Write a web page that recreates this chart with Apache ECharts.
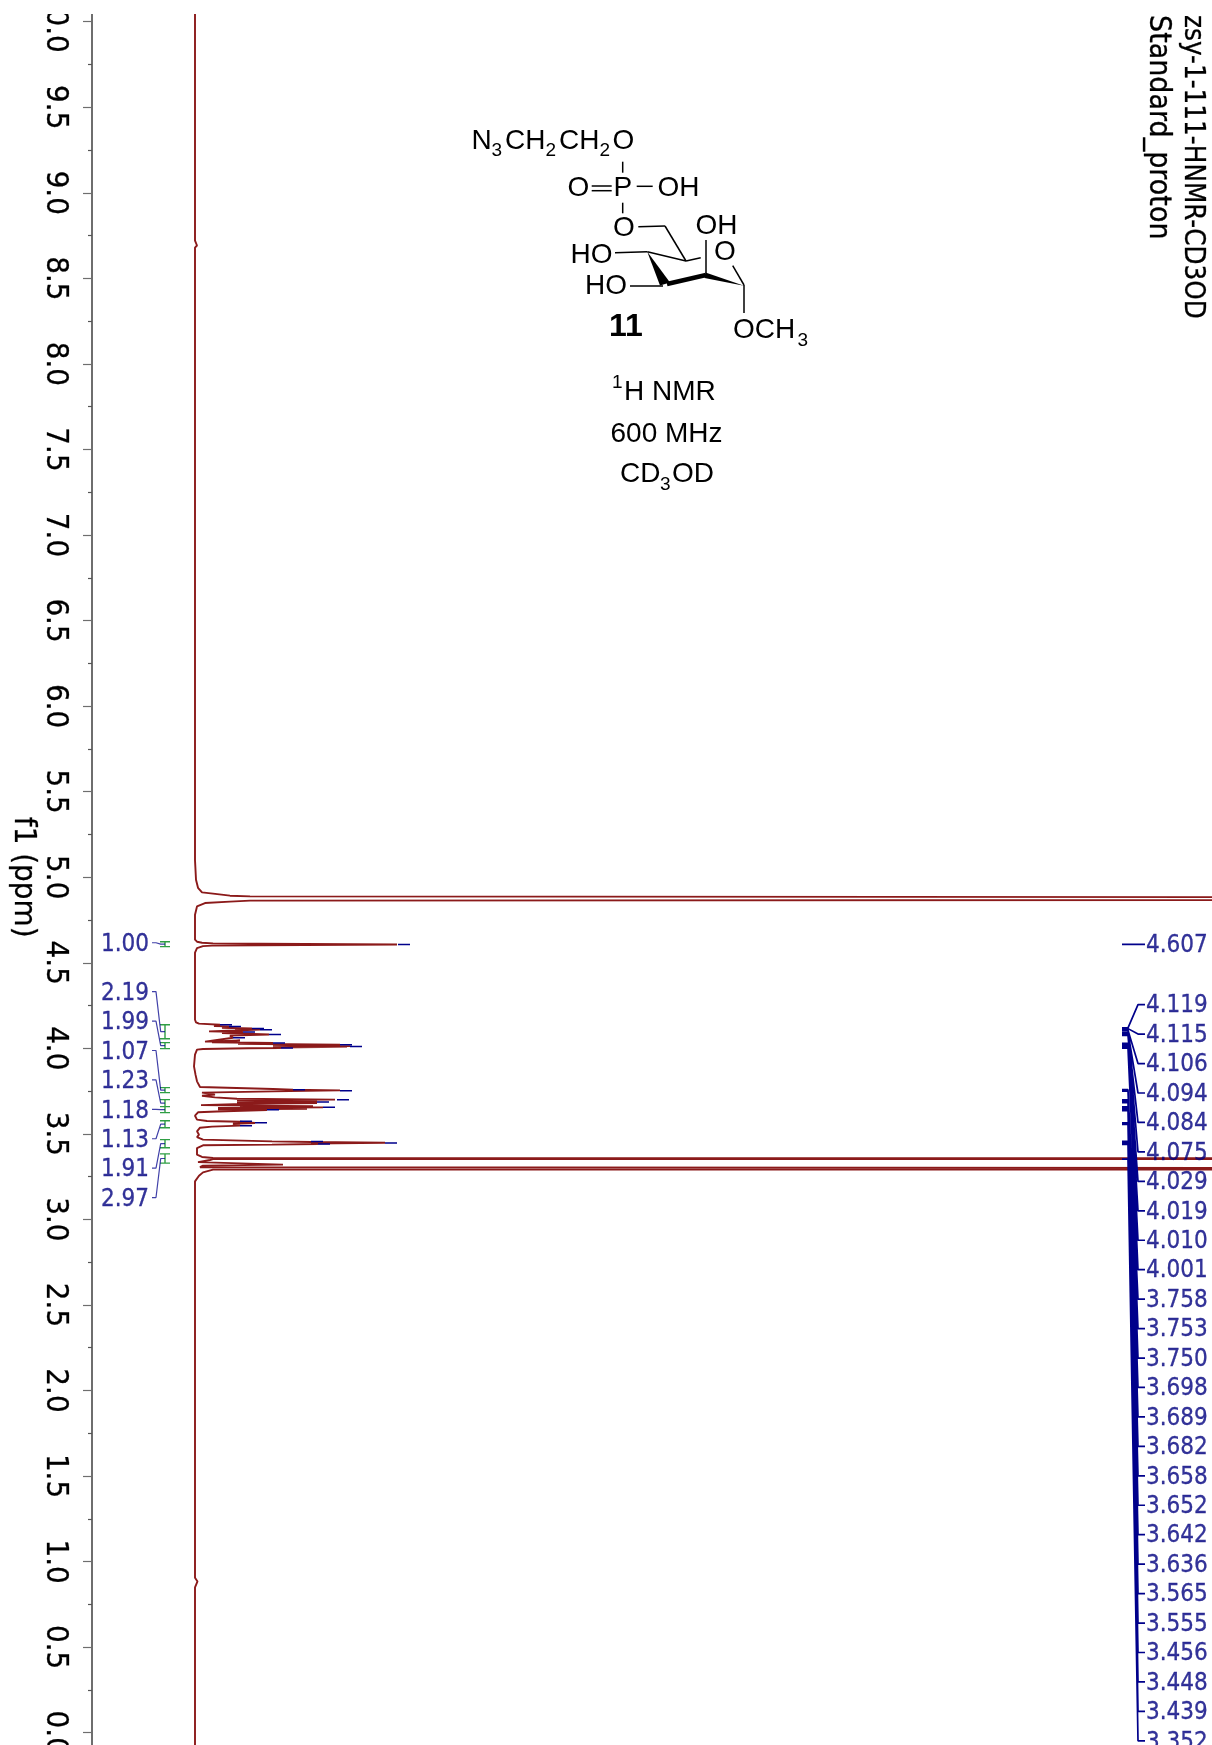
<!DOCTYPE html>
<html><head><meta charset="utf-8">
<style>html,body{margin:0;padding:0;background:#fff}#c{width:1212px;height:1745px}</style>
<script src="https://cdn.jsdelivr.net/npm/echarts@6/dist/echarts.min.js"></script>
</head><body><div id="c"></div>
<script>
// ---- spectrum (chemical shift ppm / relative intensity)
const tracePpm = [10.5,8.72,8.692,8.68,5.1,4.985,4.938,4.911,4.904,4.892,4.888,4.875,4.863,4.857,4.849,4.829,4.781,4.635,4.623,4.617,4.613,4.607,4.600,4.597,4.586,4.559,
4.3,4.167,4.152,4.144,4.138,4.130,4.128,4.120,4.116,4.111,4.109,4.103,4.099,4.095,4.089,4.081,4.074,4.062,4.039,4.046,4.035,4.031,4.027,4.021,4.019,4.013,4.011,4.009,4.005,4.002,4.000,3.996,3.992,3.963,3.894,3.846,3.807,3.774,
3.766,3.762,3.758,3.754,3.748,3.741,3.729,3.723,3.713,3.705,3.700,3.698,3.692,3.690,3.686,3.684,3.680,3.676,3.668,3.661,3.659,3.655,3.651,3.647,3.643,3.639,3.631,3.626,3.606,3.583,3.575,3.571,3.563,3.559,3.548,3.542,3.536,3.515,3.495,3.481,3.466,3.456,3.452,3.448,3.444,3.441,3.437,3.433,3.417,3.378,3.365,
3.359,3.354,3.352,3.347,3.335,3.328,3.320,3.314,3.305,3.293,3.291,3.283,3.275,3.255,3.222,3.0,1.5,0.906,0.884,0.85,-0.5];
const traceIntensity = [0,0,2,0,0,1,3,7,18,35,55,3000,55,35,10,2,0,0,2,7,18,202,17,8,2,0,
0,0,1,4,25,19,34,27,57,40,65,33,14,48,27,74,35,38,10,45,17,78,43,145,78,155,78,152,78,86,53,8,2,0,-1,0.5,2,5,
7,78,98,145,78,7,20,7,20,42,140,42,122,42,122,42,122,55,6,118,45,128,23,112,23,72,22,3,0,2,12,45,60,38,45,17,5,2,4,2,8,77,116,190,116,123,77,8,2,2,7,
18,3000,18,15,3,5,88,8,5,3000,18,18,8,4,0,0,0,0,2.5,0,0];

// ---- marks at the tip of each picked peak
const tipPpm = [4.607,4.138,4.128,4.116,4.109,4.095,4.081,4.062,4.031,4.021,4.011,4.002,3.758,3.752,3.700,3.686,3.655,3.641,3.573,3.565,3.548,3.456,3.446,3.441];
const tipIntensity = [203,25,34,57,65,48,74,38,78,145,155,86,98,145,142,122,128,72,45,60,45,116,190,123];

// ---- peak picking list
const peakLabels = ["4.607","4.119","4.115","4.106","4.094","4.084","4.075","4.029","4.019","4.010","4.001","3.758","3.753","3.750","3.698","3.689","3.682","3.658","3.652","3.642","3.636","3.565","3.555","3.456","3.448","3.439","3.352"];

// ---- integrals
const integralLabels = ["1.00","2.19","1.99","1.07","1.23","1.18","1.13","1.91","2.97"];
const integralFrom = [4.623,4.138,4.033,3.770,3.700,3.659,3.577,3.466,3.383];
const integralTo   = [4.594,4.056,3.998,3.741,3.659,3.624,3.536,3.419,3.329];

// ---- axis
const axisMin = -0.5, axisMax = 10.5, axisStep = 0.5;
const axisName = "f1 (ppm)";

// ---- layout helpers for the stacked label columns (ppm per label row = 29.45px)
const rowStep = 0.1721;
const peakSlot = i => i === 0 ? 4.607 : 4.255 - (i - 1) * rowStep;
const integralSlot = i => i === 0 ? 4.617 : 4.331 - (i - 1) * 0.1719;

const GAP = ['-','-'];
const FONT = "'DejaVu Sans Condensed','Noto Sans',sans-serif";
const NAVY = '#00008b';
const TEXTNAVY = '#000080';

const spectrum = tracePpm.map((p,i)=>[traceIntensity[i],p]);
const tips = [];
tipPpm.forEach((p,i)=>{tips.push([tipIntensity[i],p],[tipIntensity[i]+12,p],GAP);});

const pickLines = [];
peakLabels.forEach((l,i)=>{
  const p = parseFloat(l), s = peakSlot(i);
  pickLines.push([927,p],[933,p],[943,s],[950,s],GAP);
});
const pickText = peakLabels.map((l,i)=>({value:[951,peakSlot(i)],name:l}));

const greens = [], intConn = [];
integralLabels.forEach((l,i)=>{
  const a = integralFrom[i], b = integralTo[i], m = (a+b)/2, s = integralSlot(i);
  greens.push([-35,a],[-25,a],GAP,[-35,b],[-25,b],GAP,[-30,a],[-30,b],GAP);
  intConn.push([-43,s],[-39,s],[-34.3,m],[-30,m],GAP);
});
const intText = integralLabels.map((l,i)=>({value:[-46,integralSlot(i)],name:l}));

// ---- structure drawing (decoration, not data)
const ARIAL = "'Liberation Sans',Arial,sans-serif";
const t = (x,y,s,size=28,w='normal') => ({type:'text',z:50,style:{x,y,text:s,fill:'#000',font:`${w} ${size}px ${ARIAL}`,textAlign:'left',textVerticalAlign:'middle'}});
const bond = (x1,y1,x2,y2,lw=1.5) => ({type:'line',z:50,shape:{x1,y1,x2,y2},style:{stroke:'#000',lineWidth:lw}});
const poly = pts => ({type:'polygon',z:50,shape:{points:pts},style:{fill:'#000'}});
const structure = [
  t(471.5,141,'N'),t(491.5,151,'3',19),t(505,141,'CH'),t(545.5,151,'2',19),t(559,141,'CH'),t(599.5,151,'2',19),t(612.5,141,'O'),
  bond(622.7,161.7,622.7,172.7),
  t(567.5,188.5,'O'),bond(591.7,186,611.7,186),bond(591.7,190.7,611.7,190.7),t(613.5,188.5,'P'),bond(636.7,186.3,652.7,186.3),t(657.5,188.5,'OH'),
  bond(622.7,202.7,622.7,213.3),
  t(613,228,'O'),bond(638.3,226.7,665,226),bond(665,226,686,261),bond(686,261,700.7,257.7),
  t(695.5,226,'OH'),bond(706,240,706,273),
  t(714,252,'O'),bond(732.7,265.7,744,285),bond(744,285,744,313),
  t(733,330,'OCH'),t(797.5,341,'3',19),
  t(570.5,255,'HO'),bond(615,252.7,647.3,251.7),bond(647.3,251.7,686,261),
  poly([[647.3,251.7],[660,285.5],[670,282.5]]),
  bond(667,284,706,275,4.5),
  poly([[705.5,272.5],[704.5,278],[744,285.8]]),
  t(585,286.5,'HO'),bond(630,286,663,286),
  t(609,327,'11',32,'bold'),
  t(612,383,'1',19),t(624,392,'H NMR'),
  t(610.5,434,'600 MHz'),
  t(620,474,'CD'),t(660,485,'3',19),t(672,474,'OD')
];
const vtext = (x,y,s,size) => ({type:'text',z:50,x,y,rotation:-Math.PI/2,style:{x:0,y:0,text:s,fill:'#000',stroke:'#000',lineWidth:0.3,font:`${size}px ${FONT}`,textAlign:'left',textVerticalAlign:'middle'}});

const chart = echarts.init(document.getElementById('c'),null,{renderer:'canvas'});
chart.setOption({
  animation:false,
  backgroundColor:'#fff',
  grid:{left:92,top:-63.85,width:1120,height:1882.1,containLabel:false,outerBoundsMode:'none'},
  xAxis:{type:'value',min:-103,max:1017,show:false,splitLine:{show:false}},
  yAxis:{
    type:'value',min:axisMin,max:axisMax,interval:axisStep,
    name:axisName,nameLocation:'middle',nameRotate:-90,nameGap:53,nameMoveOverlap:false,
    nameTextStyle:{fontFamily:FONT,fontSize:31,color:'#000',textBorderColor:'#000',textBorderWidth:0.3},
    splitLine:{show:false},
    minorSplitLine:{show:false},
    axisLine:{show:true,onZero:false,lineStyle:{color:'#6e6e6e',width:2}},
    axisTick:{show:true,length:9,lineStyle:{color:'#6e6e6e',width:1.2}},
    minorTick:{show:true,splitNumber:2,length:4,lineStyle:{color:'#555',width:1.2}},
    axisLabel:{rotate:-90,margin:21.5,fontFamily:FONT,fontSize:31,color:'#000',textBorderColor:'#000',textBorderWidth:0.3,formatter:v=>v.toFixed(1),showMinLabel:true,showMaxLabel:true,hideOverlap:false}
  },
  series:[
    {type:'line',name:'spectrum',data:spectrum,showSymbol:false,symbol:'none',lineStyle:{color:'#8b1a1a',width:1.9,join:'bevel'},z:3,silent:true},
    {type:'line',name:'tips',data:tips,showSymbol:false,symbol:'none',lineStyle:{color:NAVY,width:1.5},z:4,silent:true},
    {type:'line',name:'pickLines',data:pickLines,showSymbol:false,symbol:'none',lineStyle:{color:NAVY,width:1.7},z:4,silent:true},
    {type:'scatter',name:'pickText',data:pickText,symbolSize:0.01,z:5,silent:true,
      label:{show:true,position:'right',distance:0,offset:[0,1.5],formatter:p=>p.name,fontFamily:FONT,fontSize:24,color:TEXTNAVY,textBorderColor:TEXTNAVY,textBorderWidth:0.3}},
    {type:'line',name:'integrals',data:greens,showSymbol:false,symbol:'none',lineStyle:{color:'#2f9e44',width:1.4},z:3,silent:true},
    {type:'line',name:'integralLines',data:intConn,showSymbol:false,symbol:'none',lineStyle:{color:NAVY,width:1.2,opacity:.75},z:4,silent:true},
    {type:'scatter',name:'integralText',data:intText,symbolSize:0.01,z:5,silent:true,
      label:{show:true,position:'left',distance:0,offset:[0,2],formatter:p=>p.name,fontFamily:FONT,fontSize:24,color:TEXTNAVY,textBorderColor:TEXTNAVY,textBorderWidth:0.3}}
  ],
  graphic:{elements:[
    {type:'rect',z:1000,shape:{x:0,y:0,width:1212,height:14},style:{fill:'#fff'}},
    ...structure,
    vtext(1192,15,'zsy-1-111-HNMR-CD3OD',27.5),
    vtext(1158,15,'Standard_proton',30)
  ]}
});
</script></body></html>
